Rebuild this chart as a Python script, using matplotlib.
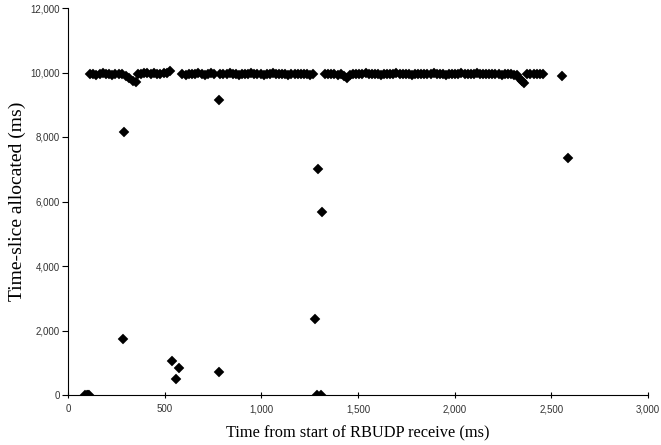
import matplotlib
matplotlib.use("Agg")
import matplotlib.pyplot as plt
from matplotlib.ticker import FuncFormatter

# ---- data (ms) ----
top_times = [114, 130, 146, 163, 179, 196, 212, 229, 245, 262, 279,
             300, 318, 336, 352,
             362, 378, 395, 411, 428, 444, 461, 477, 494, 510, 527,
             592, 608, 625, 641, 658, 674, 691, 707, 724, 740, 757,
             788, 804, 820, 836, 852, 868, 884, 900, 916, 932, 948, 964, 980, 996,
             1012, 1028, 1044, 1060, 1076, 1092, 1108, 1124, 1140, 1156, 1172, 1188,
             1204, 1220, 1236, 1252, 1267,
             1330, 1346, 1362, 1378, 1394, 1410, 1426, 1443, 1459, 1475,
             1491, 1507, 1523, 1539, 1555, 1571, 1587, 1603, 1619, 1635,
             1651, 1667, 1683, 1699, 1715, 1731, 1747, 1763, 1779, 1795,
             1811, 1827, 1843, 1859, 1875, 1891, 1907, 1923, 1939, 1955,
             1971, 1987, 2003, 2019, 2035, 2051, 2067, 2083, 2099, 2115,
             2131, 2147, 2163, 2179, 2195, 2211, 2227, 2243, 2259, 2275,
             2291, 2307, 2322,
             2332, 2346, 2360,
             2376, 2392, 2409, 2425, 2442, 2457,
             2555]
top_values = [9940, 9960, 9930, 9950, 9970, 9940, 9950, 9930, 9960, 9940, 9950,
              9880, 9820, 9750, 9690,
              9940, 9960, 9990, 9970, 9950, 9980, 9960, 9940, 9970, 9990, 10040,
              9940, 9930, 9950, 9960, 9940, 9970, 9950, 9930, 9960, 9980, 9950,
              9960, 9940, 9950, 9970, 9940, 9950, 9930, 9960, 9950, 9940, 9970, 9950, 9960, 9940,
              9930, 9950, 9960, 9980, 9950, 9940, 9960, 9950, 9930, 9950, 9940, 9960,
              9950, 9940, 9950, 9930, 9940,
              9940, 9950, 9960, 9940, 9930, 9950, 9900, 9830, 9920, 9950,
              9960, 9950, 9940, 9970, 9950, 9960, 9940, 9950, 9930, 9950,
              9960, 9940, 9950, 9970, 9950, 9940, 9960, 9950, 9930, 9950,
              9940, 9960, 9950, 9940, 9950, 9970, 9960, 9940, 9950, 9930,
              9950, 9960, 9940, 9950, 9970, 9950, 9940, 9960, 9950, 9980,
              9960, 9950, 9940, 9950, 9960, 9940, 9950, 9930, 9950, 9940,
              9950, 9930, 9920,
              9820, 9740, 9680,
              9950, 9940, 9960, 9950, 9940, 9950,
              9900]

low_times = [90, 97, 104, 111, 286, 290, 537, 559, 575, 780, 782,
             1276, 1290, 1292, 1310, 1314, 2585]
low_values = [0, 0, 0, 0, 1740, 8165, 1050, 500, 840, 9150, 715,
              2360, 0, 7020, 0, 5680, 7360]

x_ticks = [0, 500, 1000, 1500, 2000, 2500, 3000]
y_ticks = [0, 2000, 4000, 6000, 8000, 10000, 12000]

fig = plt.figure(figsize=(6.61, 4.45), dpi=100)
ax = fig.add_axes([68 / 661, 1 - 395 / 445, 580 / 661, 387 / 445])

ax.plot(top_times, top_values, 'D', color='black', ms=4.6, mec='black', mew=0.3)
ax.plot(low_times, low_values, 'D', color='black', ms=4.6, mec='black', mew=0.3)

ax.set_xlim(0, 3000)
ax.set_ylim(0, 12000)
ax.set_xticks(x_ticks)
ax.set_yticks(y_ticks)
fmt = FuncFormatter(lambda v, p: f"{int(v):,}")
ax.xaxis.set_major_formatter(fmt)
ax.yaxis.set_major_formatter(fmt)

for s in ['top', 'right']:
    ax.spines[s].set_visible(False)
for s in ['left', 'bottom']:
    ax.spines[s].set_linewidth(0.8)
    ax.spines[s].set_color('black')

ax.tick_params(axis='x', direction='inout', length=5, width=0.8, labelsize=7,
               labelcolor='#333333', pad=4)
ax.tick_params(axis='y', direction='out', length=4, width=0.8, labelsize=7,
               labelcolor='#333333', pad=2)
for lab in ax.get_xticklabels() + ax.get_yticklabels():
    lab.set_fontfamily('Liberation Sans')

ax.set_xlabel('Time from start of RBUDP receive (ms)', fontfamily='Liberation Serif',
              fontsize=11.8, labelpad=8)
ax.set_ylabel('Time-slice allocated (ms)', fontfamily='Liberation Serif',
              fontsize=14)
ax.yaxis.set_label_coords(-0.073, 0.5)

fig.savefig('out.png', dpi=100)
